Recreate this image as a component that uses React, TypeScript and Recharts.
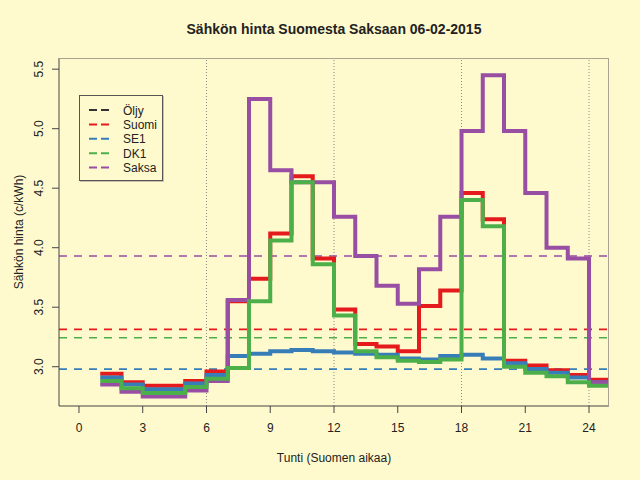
import React from 'react';
import { LineChart, Line, XAxis, YAxis, ReferenceLine, Label } from 'recharts';

// hourly prices c/kWh, hour h covers [h, h+1)
const hours = [1, 2, 3, 4, 5, 6, 7, 8, 9, 10, 11, 12, 13, 14, 15, 16, 17, 18, 19, 20, 21, 22, 23, 24];
const suomi = [2.94, 2.87, 2.84, 2.84, 2.88, 2.96, 3.55, 3.74, 4.12, 4.6, 3.91, 3.48, 3.19, 3.17, 3.13, 3.51, 3.64, 4.46, 4.24, 3.05, 3.01, 2.97, 2.93, 2.89];
const se1 = [2.91, 2.85, 2.81, 2.81, 2.86, 2.93, 3.09, 3.11, 3.13, 3.14, 3.13, 3.12, 3.11, 3.1, 3.07, 3.06, 3.09, 3.1, 3.07, 3.03, 2.98, 2.95, 2.91, 2.87];
const dk1 = [2.88, 2.82, 2.78, 2.78, 2.83, 2.9, 2.99, 3.55, 4.06, 4.55, 3.86, 3.43, 3.13, 3.08, 3.05, 3.04, 3.06, 4.4, 4.18, 3.0, 2.95, 2.92, 2.87, 2.84];
const saksa = [2.85, 2.79, 2.75, 2.75, 2.8, 2.88, 3.56, 5.25, 4.65, 4.55, 4.55, 4.26, 3.93, 3.68, 3.53, 3.82, 4.26, 4.98, 5.45, 4.98, 4.46, 4.0, 3.91, 2.87];

// daily means drawn as dashed lines
const meanNames = ['suomi', 'se1', 'dk1', 'saksa'];
const meanValues = [3.314, 2.98, 3.244, 3.93];

const xTicks = [0, 3, 6, 9, 12, 15, 18, 21, 24];
const yTicks = [3.0, 3.5, 4.0, 4.5, 5.0, 5.5];
const gridHours = [6, 12, 18, 24];

const legendNames = ['Öljy', 'Suomi', 'SE1', 'DK1', 'Saksa'];
const legendKeys = ['oljy', 'suomi', 'se1', 'dk1', 'saksa'];

const COLORS: Record<string, string> = {
  oljy: '#333333',
  suomi: '#E41A1C',
  se1: '#377EB8',
  dk1: '#4DAF4A',
  saksa: '#984EA3',
};

const FONT = '"Liberation Sans", Arial, Helvetica, sans-serif';
const BG = '#FFFACD';

const rows = hours.map((hour, i) => ({
  hour,
  suomi: suomi[i],
  se1: se1[i],
  dk1: dk1[i],
  saksa: saksa[i],
}));
// closing point so the last hour gets its own step
rows.push({ ...rows[rows.length - 1], hour: hours[hours.length - 1] + 1 });

function YTick({ x, y, payload }: any) {
  const tx = x - 7;
  return (
    <text
      x={tx}
      y={y}
      transform={`rotate(-90 ${tx} ${y})`}
      textAnchor="middle"
      fontSize={12}
      fontFamily={FONT}
      fill="#222"
    >
      {Number(payload.value).toFixed(1)}
    </text>
  );
}

function ChartLegend() {
  return (
    <div
      style={{
        position: 'absolute',
        left: 79,
        top: 95,
        width: 84,
        height: 86,
        border: '1px solid #555',
        boxShadow: '1px 1px 0 #c8c2a8',
        boxSizing: 'border-box',
      }}
    >
      <svg width={84} height={86} style={{ position: 'absolute', left: -1, top: -1 }}>
        {legendNames.map((name, i) => {
          const cy = 15 + i * 14.4;
          return (
            <g key={name}>
              <line
                x1={10}
                x2={30}
                y1={cy}
                y2={cy}
                stroke={COLORS[legendKeys[i]]}
                strokeWidth={2}
                strokeDasharray="8 4"
              />
              <text x={44} y={cy + 4.5} fontSize={12} fontFamily={FONT} fill="#222">
                {name}
              </text>
            </g>
          );
        })}
      </svg>
    </div>
  );
}

export default function App() {
  return (
    <div
      style={{
        position: 'fixed',
        left: 0,
        top: 0,
        width: 640,
        height: 480,
        background: BG,
        fontFamily: FONT,
      }}
    >
      <div
        style={{
          position: 'absolute',
          left: 59,
          top: 21,
          width: 550,
          textAlign: 'center',
          fontSize: 14,
          fontWeight: 'bold',
          color: '#222',
        }}
      >
        Sähkön hinta Suomesta Saksaan 06-02-2015
      </div>

      <LineChart
        width={640}
        height={480}
        data={rows}
        margin={{ top: 58, right: 31, bottom: 0, left: 0 }}
      >
        <XAxis
          type="number"
          dataKey="hour"
          domain={[-0.94, 24.94]}
          ticks={xTicks}
          allowDataOverflow
          height={74}
          tickSize={7}
          tickMargin={10}
          stroke="#444"
          tick={{ fontSize: 12, fontFamily: FONT, fill: '#222' }}
        >
          <Label
            content={({ viewBox }: any) => (
              <text
                x={viewBox.x + viewBox.width / 2}
                y={viewBox.y + 56}
                textAnchor="middle"
                fontSize={12}
                fontFamily={FONT}
                fill="#222"
              >
                Tunti (Suomen aikaa)
              </text>
            )}
          />
        </XAxis>
        <YAxis
          type="number"
          domain={[2.67, 5.594]}
          ticks={yTicks}
          allowDataOverflow
          width={59}
          tickSize={7}
          stroke="#444"
          tick={<YTick />}
        >
          <Label
            content={({ viewBox }: any) => {
              const lx = viewBox.x + 23;
              const ly = viewBox.y + viewBox.height / 2;
              return (
                <text
                  x={lx}
                  y={ly}
                  transform={`rotate(-90 ${lx} ${ly})`}
                  textAnchor="middle"
                  fontSize={12}
                  fontFamily={FONT}
                  fill="#222"
                >
                  Sähkön hinta (c/kWh)
                </text>
              );
            }}
          />
        </YAxis>

        {gridHours.map((h) => (
          <ReferenceLine key={`g-${h}`} x={h} stroke="#8a8a80" strokeDasharray="1 2" />
        ))}
        {meanValues.map((v, i) => (
          <ReferenceLine
            key={`m-${meanNames[i]}`}
            y={v}
            stroke={COLORS[meanNames[i]]}
            strokeWidth={1.6}
            strokeDasharray="8 7"
          />
        ))}

        <Line type="stepAfter" dataKey="suomi" stroke={COLORS.suomi} strokeWidth={4} dot={false} activeDot={false} isAnimationActive={false} />
        <Line type="stepAfter" dataKey="se1" stroke={COLORS.se1} strokeWidth={4} dot={false} activeDot={false} isAnimationActive={false} />
        <Line type="stepAfter" dataKey="saksa" stroke={COLORS.saksa} strokeWidth={4} dot={false} activeDot={false} isAnimationActive={false} />
        <Line type="stepAfter" dataKey="dk1" stroke={COLORS.dk1} strokeWidth={4} dot={false} activeDot={false} isAnimationActive={false} />
      </LineChart>

      {/* light box on the top and right sides of the plot */}
      <div
        style={{
          position: 'absolute',
          left: 59,
          top: 58,
          width: 550,
          height: 348,
          borderTop: '1px solid #a8a290',
          borderRight: '1px solid #a8a290',
          boxSizing: 'border-box',
          pointerEvents: 'none',
        }}
      />
      <ChartLegend />
    </div>
  );
}
